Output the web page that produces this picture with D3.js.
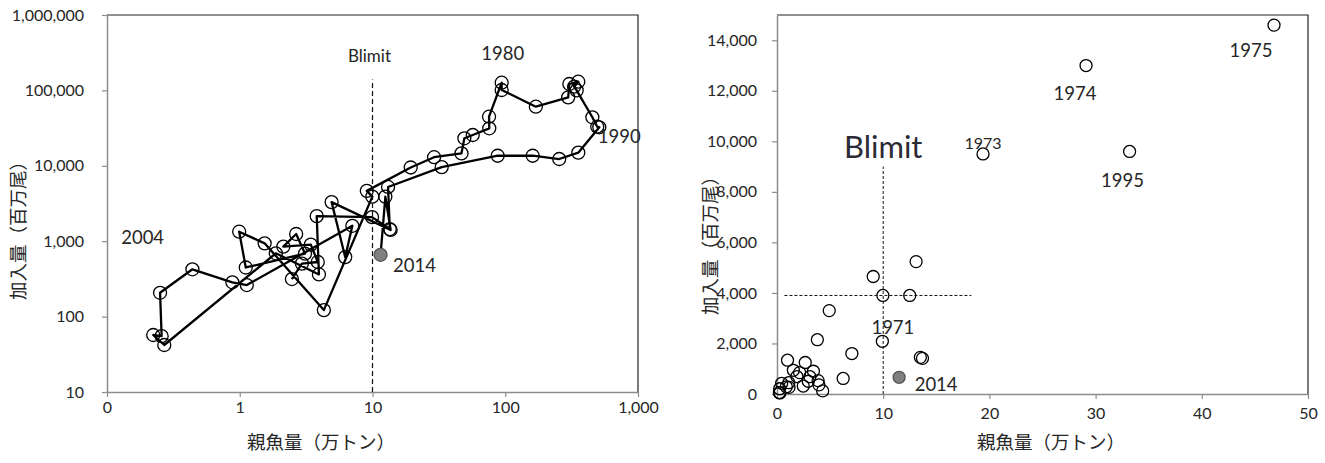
<!DOCTYPE html>
<html>
<head>
<meta charset="utf-8">
<script src="https://cdn.jsdelivr.net/npm/d3@7"></script>
<style>
  body { margin: 0; background: #fff; }
  svg text { font-family: Lato, "Noto Sans", sans-serif; fill: #262626; }
  .jp { font-family: "Noto Sans CJK JP", sans-serif; }
</style>
</head>
<body>
<svg id="chart" width="1325" height="463"></svg>
<script>

// stock-recruitment data, one entry per year
var years = [1960, 1961, 1962, 1963, 1964, 1965, 1966, 1967, 1968, 1969,
  1970, 1971, 1972, 1973, 1974, 1975, 1976, 1977, 1978, 1979,
  1980, 1981, 1982, 1983, 1984, 1985, 1986, 1987, 1988, 1989,
  1990, 1991, 1992, 1993, 1994, 1995, 1996, 1997, 1998, 1999,
  2000, 2001, 2002, 2003, 2004, 2005, 2006, 2007, 2008, 2009,
  2010, 2011, 2012, 2013, 2014];

// 親魚量 (万トン)
var ssb = [2.47, 2.94, 3.87, 3.43, 2.13, 2.66, 3.1, 1.11, 0.99, 1.54,
  4.3, 9.97, 9.06, 19.4, 29.1, 46.8, 49.2, 56.9, 75.8, 75.5,
  94, 94, 170, 298, 304, 355, 330, 345, 453, 493,
  511, 355, 255, 161, 87.7, 33.2, 13.1, 13.5, 9.92, 3.8,
  3.95, 1.87, 0.27, 0.223, 0.258, 0.251, 0.44, 0.88, 1.13, 7.05,
  6.23, 4.92, 13.7, 12.5, 11.5];

// 加入量 (百万尾)
var recruits = [315, 505, 530, 901, 846, 1246, 685, 448, 1337, 937,
  122, 3900, 4650, 9500, 13000, 14600, 23170, 25600, 31420, 44800,
  126500, 101200, 60800, 80900, 121600, 130400, 112000, 100000, 44000, 33000,
  32400, 14930, 12300, 13600, 13600, 9600, 5240, 1450, 2085, 2150,
  362, 691, 42, 57, 55, 207, 424, 285, 262, 1600,
  615, 3300, 1410, 3900, 660];

var logXTicks = [0.1, 1, 10, 100, 1000];
var logXTickLabels = ['0', '1', '10', '100', '1,000'];
var logYTicks = [10, 100, 1000, 10000, 100000, 1000000];
var linXTicks = [0, 10, 20, 30, 40, 50];
var linYTicks = [0, 2000, 4000, 6000, 8000, 10000, 12000, 14000];

var blimit = 10;            // 万トン
var blimitRecruit = 3900;   // 百万尾
var leftLabelYears = [1980, 1990, 2004, 2014];
var rightLabelYears = [1971, 1973, 1974, 1975, 1995, 2014];
var latestYear = 2014;

var data = years.map(function(y, i) {
  return {year: y, s: ssb[i], r: recruits[i]};
});

var svg = d3.select('#chart');

// ---------- left panel (log-log) ----------
var left = {l: 107, r: 638, t: 15, b: 392};

var xLog = d3.scaleLog().domain([0.1, 1000]).range([left.l, left.r]);
var yLog = d3.scaleLog().domain([10, 1000000]).range([left.b, left.t]);

var gL = svg.append('g');

// plot border (top / right)
gL.append('path')
  .attr('d', `M${left.l},${left.t}H${left.r}V${left.b}`)
  .attr('fill', 'none')
  .attr('stroke', '#222')
  .attr('stroke-width', 1.2);

var xAxisL = gL.append('g')
  .attr('transform', `translate(0, ${left.b})`)
  .call(d3.axisBottom(xLog)
    .tickValues(logXTicks)
    .tickFormat(function(d, i) { return logXTickLabels[i]; })
    .tickSizeInner(5).tickSizeOuter(0).tickPadding(5));

var yAxisL = gL.append('g')
  .attr('transform', `translate(${left.l}, 0)`)
  .call(d3.axisLeft(yLog)
    .tickValues(logYTicks)
    .tickFormat(d3.format(','))
    .tickSizeInner(5).tickSizeOuter(0).tickPadding(18));

// Blimit line
gL.append('line')
  .attr('x1', xLog(blimit)).attr('x2', xLog(blimit))
  .attr('y1', yLog(10)).attr('y2', yLog(140000))
  .attr('stroke', '#111')
  .attr('stroke-width', 1.2)
  .attr('stroke-dasharray', '5,3');

gL.append('text')
  .attr('x', xLog(blimit) - 3)
  .attr('y', 56)
  .attr('dy', '0.35em')
  .attr('text-anchor', 'middle')
  .attr('font-size', '17px')
  .text('Blimit');

var line = d3.line()
  .x(d => xLog(d.s))
  .y(d => yLog(d.r));

gL.append('path')
  .datum(data)
  .attr('d', line)
  .attr('fill', 'none')
  .attr('stroke', '#000')
  .attr('stroke-width', 2.3)
  .attr('stroke-linejoin', 'round');

gL.selectAll('.ptL')
  .data(data)
  .enter()
  .append('circle')
  .classed('ptL', true)
  .attr('cx', d => xLog(d.s))
  .attr('cy', d => yLog(d.r))
  .attr('r', 6.5)
  .attr('fill', d => d.year === latestYear ? '#808080' : 'none')
  .attr('stroke', d => d.year === latestYear ? '#555' : '#000')
  .attr('stroke-width', 1.3);

// year labels, offsets from their points
var leftOffsets = {1980: [1, -29], 1990: [20, 9], 2004: [-19, -99], 2014: [34, 11]};
gL.selectAll('.lblL')
  .data(data.filter(d => leftLabelYears.indexOf(d.year) >= 0))
  .enter()
  .append('text')
  .attr('x', d => xLog(d.s) + leftOffsets[d.year][0])
  .attr('y', d => yLog(d.r) + leftOffsets[d.year][1])
  .attr('dy', '0.35em')
  .attr('text-anchor', 'middle')
  .attr('font-size', '18.5px')
  .text(d => d.year);

gL.append('text')
  .classed('jp', true)
  .attr('transform', `translate(19, 226) rotate(-90)`)
  .attr('dy', '0.35em')
  .attr('text-anchor', 'middle')
  .attr('font-size', '18.5px')
  .text('加入量（百万尾）');

gL.append('text')
  .classed('jp', true)
  .attr('x', 321)
  .attr('y', 443)
  .attr('dy', '0.35em')
  .attr('text-anchor', 'middle')
  .attr('font-size', '18.5px')
  .text('親魚量（万トン）');

// ---------- right panel (linear) ----------
var right = {l: 777, r: 1308, t: 15, b: 394};

var xLin = d3.scaleLinear().domain([0, 50]).range([right.l, right.r]);
var yLin = d3.scaleLinear().domain([0, 15000]).range([right.b, right.t]);

var gR = svg.append('g');

gR.append('path')
  .attr('d', `M${right.l},${right.t}H${right.r}V${right.b}`)
  .attr('fill', 'none')
  .attr('stroke', '#222')
  .attr('stroke-width', 1.2);

var xAxisR = gR.append('g')
  .attr('transform', `translate(0, ${right.b})`)
  .call(d3.axisBottom(xLin)
    .tickValues(linXTicks)
    .tickSizeInner(5).tickSizeOuter(0).tickPadding(9));

var yAxisR = gR.append('g')
  .attr('transform', `translate(${right.l}, 0)`)
  .call(d3.axisLeft(yLin)
    .tickValues(linYTicks)
    .tickFormat(d3.format(','))
    .tickSizeInner(5).tickSizeOuter(0).tickPadding(15));

gR.append('line')
  .attr('x1', xLin(blimit)).attr('x2', xLin(blimit))
  .attr('y1', yLin(0)).attr('y2', yLin(9000))
  .attr('stroke', '#111')
  .attr('stroke-width', 1)
  .attr('stroke-dasharray', '3,2');

gR.append('line')
  .attr('x1', xLin(0.7)).attr('x2', xLin(18.3))
  .attr('y1', yLin(blimitRecruit)).attr('y2', yLin(blimitRecruit))
  .attr('stroke', '#111')
  .attr('stroke-width', 1)
  .attr('stroke-dasharray', '3,2');

gR.append('text')
  .attr('x', xLin(blimit))
  .attr('y', 147)
  .attr('dy', '0.35em')
  .attr('text-anchor', 'middle')
  .attr('font-size', '31px')
  .style('fill', '#2b2b36')
  .text('Blimit');

var inRange = data.filter(d => d.s <= 50 && d.r <= 15000);

gR.selectAll('.ptR')
  .data(inRange)
  .enter()
  .append('circle')
  .classed('ptR', true)
  .attr('cx', d => xLin(d.s))
  .attr('cy', d => yLin(d.r))
  .attr('r', 6)
  .attr('fill', d => d.year === latestYear ? '#808080' : 'none')
  .attr('stroke', d => d.year === latestYear ? '#555' : '#000')
  .attr('stroke-width', 1.3);

var rightOffsets = {1971: [10, 32], 1973: [0, -11], 1974: [-11, 28], 1975: [-23, 25], 1995: [-7, 29], 2014: [37, 7]};
gR.selectAll('.lblR')
  .data(inRange.filter(d => rightLabelYears.indexOf(d.year) >= 0))
  .enter()
  .append('text')
  .attr('x', d => xLin(d.s) + rightOffsets[d.year][0])
  .attr('y', d => yLin(d.r) + rightOffsets[d.year][1])
  .attr('dy', '0.35em')
  .attr('text-anchor', 'middle')
  .attr('font-size', d => d.year === 1973 ? '16px' : '18.5px')
  .text(d => d.year);

gR.append('text')
  .classed('jp', true)
  .attr('transform', `translate(711, 241) rotate(-90)`)
  .attr('dy', '0.35em')
  .attr('text-anchor', 'middle')
  .attr('font-size', '18.5px')
  .text('加入量（百万尾）');

gR.append('text')
  .classed('jp', true)
  .attr('x', 1051)
  .attr('y', 443)
  .attr('dy', '0.35em')
  .attr('text-anchor', 'middle')
  .attr('font-size', '18.5px')
  .text('親魚量（万トン）');

// axis styling, both panels
svg.selectAll('.domain').attr('stroke', '#8c8c8c').attr('stroke-width', 1.5);
svg.selectAll('.tick line').attr('stroke', '#8c8c8c').attr('stroke-width', 1.2);
svg.selectAll('.tick text').attr('font-size', '16px').style('fill', '#262626');

</script>
</body>
</html>
